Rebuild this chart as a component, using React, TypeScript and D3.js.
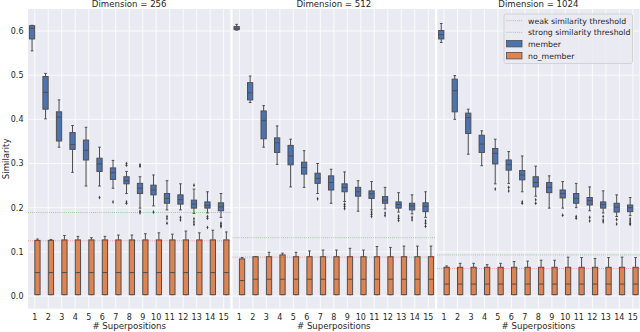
import React from "react";
import * as d3 from "d3";

// ---------- data ----------
const categories = [1, 2, 3, 4, 5, 6, 7, 8, 9, 10, 11, 12, 13, 14, 15];
const dimensions = ["256", "512", "1024"];
const yTicks = [0.0, 0.1, 0.2, 0.3, 0.4, 0.5, 0.6];

// [whisker low, q1, median, q3, whisker high]
const member256 = [
  [0.555, 0.582, 0.606, 0.612, 0.613],
  [0.401, 0.423, 0.461, 0.497, 0.504],
  [0.337, 0.351, 0.405, 0.417, 0.444],
  [0.28, 0.332, 0.343, 0.37, 0.386],
  [0.249, 0.308, 0.33, 0.353, 0.382],
  [0.249, 0.282, 0.299, 0.312, 0.337],
  [0.244, 0.264, 0.279, 0.29, 0.307],
  [0.232, 0.254, 0.261, 0.27, 0.282],
  [0.199, 0.232, 0.244, 0.255, 0.27],
  [0.204, 0.229, 0.24, 0.251, 0.274],
  [0.195, 0.21, 0.221, 0.232, 0.261],
  [0.195, 0.208, 0.218, 0.229, 0.254],
  [0.187, 0.199, 0.208, 0.217, 0.242],
  [0.188, 0.199, 0.205, 0.213, 0.236],
  [0.178, 0.193, 0.202, 0.211, 0.232],
];
const memberOutliers256 = [
  [], [], [], [], [], [0.223], [0.213], [0.3, 0.296, 0.213, 0.21],
  [0.297, 0.294, 0.192, 0.188], [0.19], [0.18, 0.175, 0.165], [0.178, 0.172],
  [0.251, 0.175, 0.168, 0.162], [0.18, 0.176, 0.155], [0.165, 0.16, 0.157],
];
const noMemberQ3_256 = [0.126, 0.126, 0.127, 0.127, 0.127, 0.127, 0.127, 0.127, 0.127, 0.127, 0.127, 0.127, 0.127, 0.127, 0.127];
const noMemberMedian256 = [0.053, 0.053, 0.053, 0.053, 0.053, 0.053, 0.053, 0.053, 0.053, 0.053, 0.053, 0.053, 0.053, 0.053, 0.053];
const noMemberHigh256 = [0.129, 0.128, 0.137, 0.135, 0.132, 0.135, 0.138, 0.138, 0.141, 0.143, 0.14, 0.147, 0.143, 0.149, 0.145];

const member512 = [
  [0.602, 0.603, 0.606, 0.61, 0.615],
  [0.438, 0.444, 0.46, 0.483, 0.498],
  [0.337, 0.356, 0.397, 0.419, 0.431],
  [0.298, 0.325, 0.347, 0.358, 0.385],
  [0.247, 0.297, 0.317, 0.341, 0.355],
  [0.246, 0.276, 0.291, 0.303, 0.329],
  [0.232, 0.255, 0.266, 0.278, 0.3],
  [0.21, 0.24, 0.257, 0.272, 0.287],
  [0.214, 0.236, 0.246, 0.254, 0.281],
  [0.192, 0.226, 0.236, 0.246, 0.261],
  [0.195, 0.221, 0.231, 0.238, 0.259],
  [0.197, 0.21, 0.217, 0.225, 0.246],
  [0.19, 0.199, 0.207, 0.213, 0.234],
  [0.186, 0.195, 0.204, 0.21, 0.229],
  [0.178, 0.191, 0.203, 0.211, 0.236],
];
const memberOutliers512 = [
  [], [], [], [], [], [], [0.22], [], [0.208, 0.203, 0.198], [],
  [0.19, 0.185, 0.18], [0.188, 0.182], [0.181, 0.176, 0.171], [0.178, 0.172], [0.17, 0.165, 0.158],
];
const noMemberQ3_512 = [0.084, 0.089, 0.089, 0.093, 0.089, 0.089, 0.089, 0.089, 0.089, 0.089, 0.089, 0.089, 0.089, 0.089, 0.089];
const noMemberMedian512 = [0.035, 0.038, 0.038, 0.038, 0.038, 0.038, 0.038, 0.038, 0.038, 0.038, 0.038, 0.038, 0.038, 0.038, 0.038];
const noMemberHigh512 = [0.087, 0.089, 0.099, 0.097, 0.099, 0.102, 0.104, 0.104, 0.108, 0.104, 0.112, 0.11, 0.113, 0.113, 0.113];

const member1024 = [
  [0.574, 0.582, 0.592, 0.601, 0.617],
  [0.4, 0.417, 0.465, 0.491, 0.499],
  [0.321, 0.368, 0.404, 0.414, 0.423],
  [0.295, 0.325, 0.344, 0.364, 0.374],
  [0.254, 0.299, 0.323, 0.334, 0.355],
  [0.255, 0.285, 0.297, 0.308, 0.327],
  [0.236, 0.263, 0.274, 0.284, 0.317],
  [0.226, 0.247, 0.257, 0.27, 0.294],
  [0.199, 0.234, 0.246, 0.257, 0.272],
  [0.199, 0.222, 0.232, 0.24, 0.259],
  [0.2, 0.21, 0.221, 0.232, 0.255],
  [0.193, 0.206, 0.216, 0.223, 0.247],
  [0.188, 0.199, 0.207, 0.213, 0.238],
  [0.18, 0.19, 0.201, 0.21, 0.229],
  [0.182, 0.191, 0.2, 0.206, 0.223],
];
const memberOutliers1024 = [
  [], [], [], [], [0.242], [0.246, 0.238], [0.213, 0.21], [0.218, 0.21], [], [0.183],
  [0.18, 0.176], [0.178, 0.17], [0.18, 0.172, 0.168], [0.173, 0.163], [0.175, 0.17, 0.165, 0.162],
];
const noMemberQ3_1024 = [0.065, 0.065, 0.065, 0.065, 0.065, 0.065, 0.065, 0.065, 0.065, 0.065, 0.065, 0.065, 0.065, 0.065, 0.065];
const noMemberMedian1024 = [0.027, 0.027, 0.027, 0.027, 0.027, 0.027, 0.027, 0.027, 0.027, 0.027, 0.027, 0.027, 0.027, 0.027, 0.027];
const noMemberHigh1024 = [0.068, 0.074, 0.074, 0.071, 0.074, 0.078, 0.079, 0.081, 0.081, 0.088, 0.087, 0.085, 0.087, 0.088, 0.087];

const noMemberLow = 0.003;
const weakThreshold = [0.125, 0.088, 0.062];
const strongThreshold = [0.189, 0.132, 0.093];
const legendLabels = ["weak similarity threshold", "strong similarity threshold", "member", "no_member"];

// ---------- layout ----------
const W = 640;
const H = 332;
const panelX = [28, 232.6, 437.2];
const panelW = 202.4;
const top = 9;
const bottom = 308.7;
const BLUE = "#4C72B0";
const ORANGE = "#DD8452";
const LINE = "#4f4f4f";
const BG = "#EAEAF2";
const TEXT = "#262626";
const FONT = "DejaVu Sans, sans-serif";

const y = d3.scaleLinear().domain([0, 0.6]).range([296, 31]);

const panels = [
  { member: member256, out: memberOutliers256, q3: noMemberQ3_256, med: noMemberMedian256, hi: noMemberHigh256 },
  { member: member512, out: memberOutliers512, q3: noMemberQ3_512, med: noMemberMedian512, hi: noMemberHigh512 },
  { member: member1024, out: memberOutliers1024, q3: noMemberQ3_1024, med: noMemberMedian1024, hi: noMemberHigh1024 },
];

function Box({ cx, w, s, fill }: { cx: number; w: number; s: number[]; fill: string }) {
  const [lo, q1, med, q3, hi] = s;
  const cw = w / 2;
  return (
    <g>
      <line x1={cx} x2={cx} y1={y(q3)} y2={y(hi)} stroke={LINE} strokeWidth={1} />
      <line x1={cx} x2={cx} y1={y(q1)} y2={y(lo)} stroke={LINE} strokeWidth={1} />
      <line x1={cx - cw / 2} x2={cx + cw / 2} y1={y(hi)} y2={y(hi)} stroke={LINE} strokeWidth={1} />
      <line x1={cx - cw / 2} x2={cx + cw / 2} y1={y(lo)} y2={y(lo)} stroke={LINE} strokeWidth={1} />
      <rect x={cx - w / 2} y={y(q3)} width={w} height={Math.max(0.5, y(q1) - y(q3))} fill={fill} stroke={LINE} strokeWidth={1} />
      <line x1={cx - w / 2} x2={cx + w / 2} y1={y(med)} y2={y(med)} stroke={LINE} strokeWidth={1} />
    </g>
  );
}

function Panel({ idx }: { idx: number }) {
  const x0 = panelX[idx];
  const x = d3.scaleBand<number>().domain(categories).range([x0, x0 + panelW]).padding(0);
  const bw = x.bandwidth();
  const boxW = bw * 0.39;
  const off = bw * 0.2;
  const p = panels[idx];
  const diamond = d3.symbol().type(d3.symbolDiamond).size(5)();
  return (
    <g>
      <rect x={x0} y={top} width={panelW} height={bottom - top} fill={BG} />
      {yTicks.map((t) => (
        <line key={"h" + t} x1={x0} x2={x0 + panelW} y1={y(t)} y2={y(t)} stroke="#fff" strokeWidth={0.8} />
      ))}
      {categories.map((c) => (
        <line key={"v" + c} x1={x(c)! + bw / 2} x2={x(c)! + bw / 2} y1={top} y2={bottom} stroke="#fff" strokeWidth={0.8} />
      ))}
      <text x={x0 + panelW / 2} y={7} textAnchor="middle" fontSize={8.6} fill={TEXT} fontFamily={FONT}>
        {"Dimension = " + dimensions[idx]}
      </text>
      {categories.map((c, i) => {
        const cx = x(c)! + bw / 2;
        return (
          <g key={"b" + c}>
            <Box cx={cx - off} w={boxW} s={p.member[i]} fill={BLUE} />
            {p.out[i].map((v, j) => (
              <path key={j} d={diamond!} transform={`translate(${cx - off},${y(v)}) scale(0.75,1)`} fill="#3d3d3d" />
            ))}
            <Box cx={cx + off} w={boxW} s={[noMemberLow, noMemberLow, p.med[i], p.q3[i], p.hi[i]]} fill={ORANGE} />
          </g>
        );
      })}
      <line x1={x0} x2={x0 + panelW} y1={y(weakThreshold[idx])} y2={y(weakThreshold[idx])} stroke="red" strokeOpacity={0.5} strokeWidth={0.8} strokeDasharray="0.8,1.3" />
      <line x1={x0} x2={x0 + panelW} y1={y(strongThreshold[idx])} y2={y(strongThreshold[idx])} stroke="green" strokeOpacity={0.5} strokeWidth={0.8} strokeDasharray="0.8,1.3" />
      {categories.map((c) => (
        <text key={"t" + c} x={x(c)! + bw / 2} y={319.8} textAnchor="middle" fontSize={8} fill={TEXT} fontFamily={FONT}>
          {c}
        </text>
      ))}
      <text x={x0 + panelW / 2} y={328.5} textAnchor="middle" fontSize={8.6} fill={TEXT} fontFamily={FONT}>
        # Superpositions
      </text>
    </g>
  );
}

function Legend() {
  const lx = 504;
  const ly = 14;
  const rowY = [20.7, 32.3, 43.7, 55.7];
  return (
    <g>
      <rect x={lx} y={ly} width={128.5} height={49.5} rx={2} fill="#EAEAF2" fillOpacity={0.8} stroke="#cccccc" strokeWidth={0.8} />
      <line x1={506.5} x2={522} y1={rowY[0]} y2={rowY[0]} stroke="red" strokeOpacity={0.5} strokeWidth={0.8} strokeDasharray="0.8,1.3" />
      <line x1={506.5} x2={522} y1={rowY[1]} y2={rowY[1]} stroke="green" strokeOpacity={0.5} strokeWidth={0.8} strokeDasharray="0.8,1.3" />
      <rect x={506.5} y={rowY[2] - 3.2} width={15.5} height={6.4} fill={BLUE} stroke={LINE} strokeWidth={0.8} />
      <rect x={506.5} y={rowY[3] - 3.2} width={15.5} height={6.4} fill={ORANGE} stroke={LINE} strokeWidth={0.8} />
      {legendLabels.map((l, i) => (
        <text key={l} x={528} y={rowY[i] + 2.8} fontSize={7.8} fill={TEXT} fontFamily={FONT}>
          {l}
        </text>
      ))}
    </g>
  );
}

export default function App() {
  return (
    <svg width={W} height={H} style={{ position: "absolute", left: 0, top: 0, background: "#fff" }}>
      {[0, 1, 2].map((i) => (
        <Panel key={i} idx={i} />
      ))}
      {yTicks.map((t) => (
        <text key={t} x={23.5} y={y(t) + 2.9} textAnchor="end" fontSize={8} fill={TEXT} fontFamily={FONT}>
          {t.toFixed(1)}
        </text>
      ))}
      <text transform={`translate(8.8,${(top + bottom) / 2}) rotate(-90)`} textAnchor="middle" fontSize={8.6} fill={TEXT} fontFamily={FONT}>
        Similarity
      </text>
      <Legend />
    </svg>
  );
}
